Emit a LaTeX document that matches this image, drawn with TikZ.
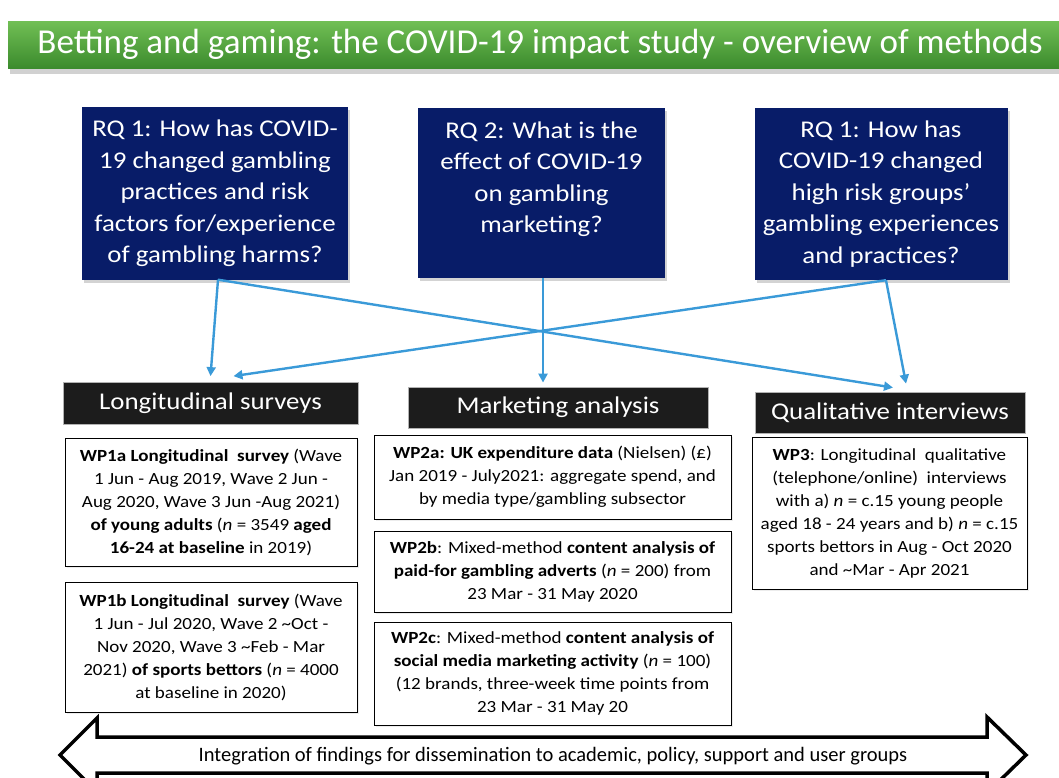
\documentclass[tikz,border=0pt]{standalone}
\usepackage{fontspec}
\setmainfont{Carlito}
\newfontfamily\widefont[FakeStretch=1.12,Ligatures=TeX]{Carlito}
\usetikzlibrary{arrows.meta,shadows,calc}
\definecolor{navy}{RGB}{8,28,104}
\definecolor{arrowblue}{RGB}{58,154,216}
\definecolor{hdrblack}{RGB}{28,28,28}
\definecolor{gtop}{RGB}{112,190,84}
\definecolor{gbot}{RGB}{58,138,44}
\tikzset{
  rqbox/.style={rectangle, fill=navy, text=white, align=center, inner sep=0pt,
    font=\widefont\fontsize{24}{31.5}\selectfont,
    drop shadow={shadow xshift=2pt, shadow yshift=-3pt, opacity=0.35}},
  hdrbox/.style={rectangle, fill=hdrblack, draw=gray!60, line width=0.8pt, text=white,
    align=center, inner sep=0pt, font=\widefont\fontsize{24}{28}\selectfont},
  wpbox/.style={rectangle, fill=white, draw=black, line width=1pt, align=center,
    inner sep=0pt, font=\widefont\fontsize{17}{23}\selectfont,
    drop shadow={shadow xshift=1.5pt, shadow yshift=-1.5pt, opacity=0.15}},
  link/.style={draw=arrowblue, line width=2.4pt, -{Triangle[length=9pt,width=9pt]}},
}
\begin{document}
\begin{tikzpicture}[x=1pt,y=-1pt]
\useasboundingbox (0,0) rectangle (1059,778);
\clip (0,0) rectangle (1059,778);
% title bar
\fill[black,opacity=0.18] (10,26) rectangle (1065,74);
\shade[top color=gtop, bottom color=gbot] (8,22) rectangle (1065,69);
\node[text=white, font=\fontsize{35}{38}\selectfont] (title) at (540,44) {Betting and gaming: the COVID-19 impact study - overview of methods};
% RQ boxes
\node[rqbox, minimum width=266pt, minimum height=172pt] (rq1) at (215,193.5)
  {RQ 1: How has COVID-\\19 changed gambling\\practices and risk\\factors for/experience\\of gambling harms?};
\node[rqbox, minimum width=247pt, minimum height=170pt] (rq2) at (541.5,193)
  {RQ 2: What is the\\effect of COVID-19\\on gambling\\marketing?\\\mbox{}};
\node[rqbox, minimum width=253pt, minimum height=172pt] (rq3) at (881,194)
  {RQ 1: How has\\COVID-19 changed\\high risk groups’\\gambling experiences\\and practices?};
% headers
\node[hdrbox, minimum width=295pt, minimum height=42pt] (lon) at (210.5,403.5) {Longitudinal surveys};
\node[hdrbox, minimum width=300pt, minimum height=41pt] (mkt) at (558,407.5) {Marketing analysis};
\node[hdrbox, minimum width=270pt, minimum height=41pt] (qual) at (890,412.5) {Qualitative interviews};
% connectors
\draw[link] ($(rq1.south)+(3,0)$) -- ($(lon.north)+(0,-6)$);
\draw[link] ($(rq1.south)+(3,0)$) -- ($(qual.north)+(3,-4)$);
\draw[link] ($(rq2.south)+(1.5,0)$) -- ($(mkt.north)+(-15,-4)$);
\draw[link] ($(rq3.south)+(5,0)$) -- ($(qual.north)+(16,-8)$);
\draw[link] ($(rq3.south)+(5,0)$) -- ($(lon.north)+(23,-6)$);
% WP boxes
\node[wpbox, minimum width=292pt, minimum height=128pt] (wp1a) at (211,502)
  {\textbf{WP1a Longitudinal\ \ survey} (Wave\\1 Jun - Aug 2019, Wave 2 Jun -\\Aug 2020, Wave 3 Jun -Aug 2021)\\\textbf{of young adults} (\textit{n} = 3549 \textbf{aged}\\\textbf{16-24 at baseline} in 2019)};
\node[wpbox, minimum width=292pt, minimum height=130pt] (wp1b) at (211,647)
  {\textbf{WP1b Longitudinal\ \ survey} (Wave\\1 Jun - Jul 2020, Wave 2 \textasciitilde Oct -\\Nov 2020, Wave 3 \textasciitilde Feb - Mar\\2021) \textbf{of sports bettors} (\textit{n} = 4000\\at baseline in 2020)};
\node[wpbox, minimum width=357pt, minimum height=84pt] (wp2a) at (552.5,477)
  {\textbf{WP2a: UK expenditure data} (Nielsen) (£)\\Jan 2019 - July2021: aggregate spend, and\\by media type/gambling subsector};
\node[wpbox, minimum width=357pt, minimum height=81pt] (wp2b) at (552.5,571.5)
  {\textbf{WP2b}: Mixed-method \textbf{content analysis of}\\\textbf{paid-for\ gambling adverts} (\textit{n} = 200) from\\23 Mar - 31 May 2020};
\node[wpbox, minimum width=357pt, minimum height=103pt] (wp2c) at (552.5,673.5)
  {\textbf{WP2c}: Mixed-method \textbf{content analysis of}\\\textbf{social media marketing activity} (\textit{n} = 100)\\(12 brands, three-week time points from\\23 Mar - 31 May 20};
\node[wpbox, minimum width=275pt, minimum height=152pt] (wp3) at (889.5,513)
  {\textbf{WP3}: Longitudinal\ \ qualitative\\(telephone/online)\ \ interviews\\with a) \textit{n} = c.15 young people\\aged 18 - 24 years and b) \textit{n} = c.15\\sports bettors in Aug - Oct 2020\\and \textasciitilde Mar - Apr 2021};
% bottom double arrow
\draw[black, line width=3.5pt, fill=white, line join=miter]
  (60,755) -- (97,718) -- (97,737) -- (987,737) -- (987,717) -- (1026,755)
  -- (987,793) -- (987,773) -- (97,773) -- (97,792) -- cycle;
\node[font=\fontsize{20.5}{22}\selectfont] (integ) at (553,756)
  {Integration of findings for dissemination to academic, policy, support and user groups};
\end{tikzpicture}
\end{document}
